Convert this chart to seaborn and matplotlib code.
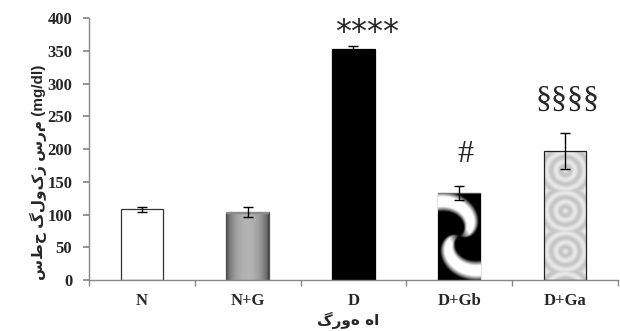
import numpy as np
import pandas as pd
import matplotlib
matplotlib.use("Agg")
import matplotlib.pyplot as plt
import seaborn as sns

# ---- data ----
groups = ["N", "N+G", "D", "D+Gb", "D+Ga"]
glucose = [108, 104, 352, 133, 197]
sem = [4, 8, 5, 11, 28]
marks = ["", "", "****", "#", "§§§§"]

ylabel = "سطح گلوکز سرم (mg/dl)"
xlabel = "گروه ها"

sns.set_theme(style="white")
plt.rcParams["font.family"] = ["Liberation Serif", "DejaVu Sans"]

df = pd.DataFrame({"group": groups, "glucose": glucose})

fig = plt.figure(figsize=(6.2, 3.31), dpi=100)
ax = fig.add_axes([0.1435, 0.154, 0.853, 0.7915])

sns.barplot(data=df, x="group", y="glucose", ax=ax, width=0.4,
            color="white", edgecolor="#333333", linewidth=0.9, errorbar=None)

# textures (styling only)
def tex_gradient(h=64, w=64):
    x = np.linspace(-1, 1, w)
    row = 0.25 + 0.45 * (1 - x ** 2) ** 0.6
    img = np.tile(row, (h, 1))
    img[:3, :] = 0.55
    return img

def tex_swirl(h=210, w=100):
    y, x = np.mgrid[-2.1:2.1:h * 1j, -1:1:w * 1j]
    r = np.sqrt(x ** 2 + y ** 2)
    th = np.arctan2(y, x)
    v = np.cos(2 * th + 2.2 * r)
    img = np.clip((v - 0.35) * 2.0, 0, 1) * np.clip(r * 2.0, 0, 1)
    img[:4, :] = 0.45
    return img

def tex_rings(h=200, w=64):
    y, x = np.mgrid[0:3.2:h * 1j, -0.5:0.5:w * 1j]
    yy = (y % 1.0) - 0.5
    r = np.sqrt(x ** 2 + yy ** 2)
    v = np.cos(r * 28)
    return 0.84 + 0.07 * v

fills = [None, ("gray", tex_gradient()), ("black", None), ("swirl", tex_swirl()), ("rings", tex_rings())]
for patch, f in zip(ax.patches, fills):
    if f is None:
        continue
    kind, img = f
    if kind == "black":
        patch.set_facecolor("black")
        patch.set_edgecolor("black")
        continue
    bx, by = patch.get_x(), patch.get_y()
    bw, bh = patch.get_width(), patch.get_height()
    im = ax.imshow(img, cmap="gray", vmin=0, vmax=1, aspect="auto",
                   extent=[bx, bx + bw, by, by + bh], zorder=patch.get_zorder() + 0.1,
                   interpolation="bilinear")
    im.set_clip_path(patch)
    if kind == "gray":
        patch.set_edgecolor("#555555")
    elif kind == "swirl":
        patch.set_edgecolor("black")
    else:
        patch.set_edgecolor("#222222")
        patch.set_zorder(patch.get_zorder() + 0.2)
        patch.set_facecolor("none")

xs = np.arange(len(groups))
ax.errorbar(xs, glucose, yerr=sem, fmt="none", ecolor="black",
            elinewidth=1, capsize=3.5, capthick=1, zorder=5)

for x, v, e, m in zip(xs, glucose, sem, marks):
    if not m:
        continue
    if m == "****":
        ax.text(x + 0.13, 365, m, ha="center", va="baseline", fontsize=23,
                family=["DejaVu Sans"], zorder=6)
    elif m == "#":
        ax.text(x + 0.06, 180, m, ha="center", va="baseline", fontsize=23,
                family=["Liberation Serif"], zorder=6)
    else:
        ax.text(x + 0.02, 275, m, ha="center", va="center", fontsize=23,
                family=["Liberation Serif"], zorder=6)

ax.set_xlim(-0.5, len(groups) - 0.5)
ax.set_ylim(0, 400)
ax.set_yticks(range(0, 401, 50))
ax.set_xticks(xs)
ax.set_xticklabels(groups, fontweight="bold", fontsize=12)
for lab in ax.get_yticklabels():
    lab.set_fontweight("bold")
    lab.set_fontsize(12)
ax.set_xticks(np.arange(-0.5, len(groups), 1.0), minor=True)
ax.tick_params(axis="x", which="major", length=0, pad=9)
ax.tick_params(axis="x", which="minor", length=4, color="#888888", direction="out", bottom=True)
ax.tick_params(axis="y", length=4, color="#888888", direction="out", left=True, pad=8)

sns.despine(ax=ax)
for s in ["left", "bottom"]:
    ax.spines[s].set_color("#888888")
    ax.spines[s].set_linewidth(1)

ax.set_xlabel(xlabel, fontweight="bold", fontsize=11, family=["DejaVu Sans"])
ax.xaxis.set_label_coords(0.49, -0.155)
ax.xaxis.label.set_va("center")
ax.set_ylabel(ylabel, fontweight="bold", fontsize=11,
              family=["Liberation Sans", "DejaVu Sans"])
ax.yaxis.set_label_coords(-0.096, 0.41)
ax.yaxis.label.set_va("center")

fig.savefig("out.png", dpi=100)
